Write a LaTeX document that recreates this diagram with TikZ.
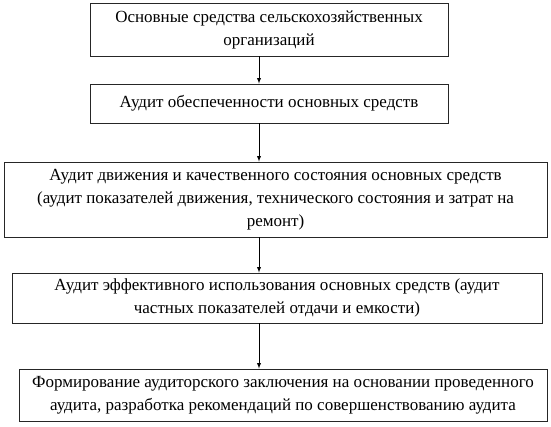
\documentclass[tikz,border=0pt]{standalone}
\usepackage{fontspec}
\setmainfont{Liberation Serif}
\usetikzlibrary{calc,positioning}

\begin{document}
\begin{tikzpicture}[x=1pt,y=-1pt,every node/.style={draw,align=center,inner sep=0pt,font=\rmfamily\fontsize{17}{23}\selectfont},stage/.style={draw=black!85,line width=0.9pt}]
\useasboundingbox (0,0) rectangle (551,426);
\coordinate (Axis) at (259,0);
\node [stage,minimum width=358,minimum height=53] (OsnSredstva) at (269,29.5) {Основные средства сельскохозяйственных\\организаций};
\node [stage,minimum width=358,minimum height=39] (Obespechennost) at (269,103.5) {Аудит обеспеченности основных средств};
\node [stage,minimum width=543,minimum height=75] (Dvizhenie) at (275.5,199.5) {Аудит движения и качественного состояния основных средств\\(аудит показателей движения, технического состояния и затрат на\\ремонт)};
\node [stage,minimum width=530,minimum height=50] (Effektivnost) at (277,298) {Аудит эффективного использования основных средств (аудит\\частных показателей отдачи и емкости)};
\node [stage,minimum width=528,minimum height=52] (Zaklyuchenie) at (283,395) {Формирование аудиторского заключения на основании проведенного\\аудита, разработка рекомендаций по совершенствованию аудита};
\draw [-latex,line width=0.9pt] (OsnSredstva.south -| Axis) -- (Obespechennost.north -| Axis);
\draw [-latex,line width=0.9pt] (Obespechennost.south -| Axis) -- (Dvizhenie.north -| Axis);
\draw [-latex,line width=0.9pt] (Dvizhenie.south -| Axis) -- (Effektivnost.north -| Axis);
\draw [-latex,line width=0.9pt] (Effektivnost.south -| Axis) -- (Zaklyuchenie.north -| Axis);
\end{tikzpicture}
\end{document}
